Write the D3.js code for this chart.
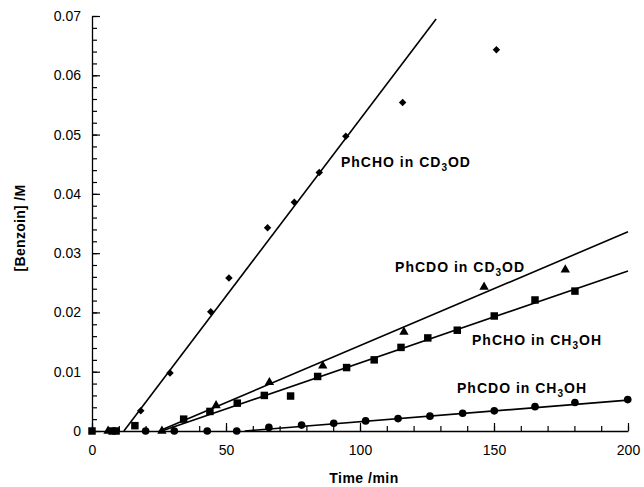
<!DOCTYPE html>
<html><head><meta charset="utf-8">
<script src="https://cdn.jsdelivr.net/npm/d3@7"></script>
<style>
body{margin:0;background:#fff;}
svg text{font-family:"Liberation Sans",Arial,Helvetica,sans-serif;fill:#000;}
</style></head>
<body><svg id="chart" width="644" height="487"></svg>
<script>
// ---- data (time in min, concentration in M) ----
const xTicks = [0, 50, 100, 150, 200];
const yTicks = [0, 0.01, 0.02, 0.03, 0.04, 0.05, 0.06, 0.07];

// PhCHO in CD3OD (diamonds)
const phchoCD3OD_t = [18.2, 29.1, 44.3, 51.1, 65.5, 75.5, 84.8, 94.7, 115.9, 150.9];
const phchoCD3OD_c = [0.0034, 0.0098, 0.0201, 0.0258, 0.0343, 0.0386, 0.0436, 0.0497, 0.0554, 0.0643];
const phchoCD3OD_fit = [[11.9, 0], [128.4, 0.0695]];

// PhCDO in CD3OD (triangles)
const phcdoCD3OD_t = [6, 26.1, 46.3, 66.2, 86.1, 116.4, 146.3, 176.6];
const phcdoCD3OD_c = [0, 0, 0.0043, 0.0082, 0.0110, 0.0167, 0.0243, 0.0272];
const phcdoCD3OD_fit = [[25, 0], [200, 0.0336]];

// PhCHO in CH3OH (squares)
const phchoCH3OH_t = [0, 7.5, 9, 16, 34.2, 44, 54.2, 64.3, 74.1, 84.2, 95, 105.3, 115.3, 125.3, 136.3, 150.1, 165.3, 180.2];
const phchoCH3OH_c = [0, 0, 0, 0.0009, 0.0020, 0.0033, 0.0047, 0.0060, 0.0059, 0.0092, 0.0107, 0.0120, 0.0141, 0.0157, 0.0170, 0.0194, 0.0221, 0.0236];
const phchoCH3OH_fit = [[26, 0], [200, 0.0270]];

// PhCDO in CH3OH (circles)
const phcdoCH3OH_t = [20, 30.7, 43, 54, 66, 78.2, 90.2, 102.1, 114.2, 126.1, 138.3, 150.1, 165.3, 180.2, 199.9];
const phcdoCH3OH_c = [0, 0, 0, 0, 0.0006, 0.0010, 0.0013, 0.0017, 0.0021, 0.0025, 0.0030, 0.0034, 0.0041, 0.0048, 0.0053];
const phcdoCH3OH_fit = [[57, 0], [200, 0.0052]];

const labelText = ["PhCHO in CD", "PhCDO in CD", "PhCHO in CH", "PhCDO in CH"];
const labelTail = ["OD", "OD", "OH", "OH"];
const labelAt = [[92.9, 0.0445], [113.1, 0.0268], [141.8, 0.0145], [136.2, 0.0064]];

// ---- layout ----
const svg = d3.select("#chart");
const x = d3.scaleLinear().domain([0, 200]).range([92, 628]);
const y = d3.scaleLinear().domain([0, 0.07]).range([431, 16]);

const fmtY = d => d === 0 ? "0" : d3.format(".2f")(d);

// minor ticks
svg.append("g").attr("transform", "translate(92,0)")
  .call(d3.axisLeft(y).tickValues(d3.range(0, 0.0701, 0.002)).tickSize(-5).tickFormat(""))
  .call(g => g.select(".domain").remove());
svg.append("g").attr("transform", "translate(0,431)")
  .call(d3.axisBottom(x).tickValues(d3.range(0, 201, 10)).tickSize(-5).tickFormat(""))
  .call(g => g.select(".domain").remove());

// major axes
const ya = svg.append("g").attr("transform", "translate(92,0)")
  .call(d3.axisLeft(y).tickValues(yTicks).tickSize(-8).tickSizeOuter(0).tickPadding(11).tickFormat(fmtY));
const xa = svg.append("g").attr("transform", "translate(0,431)")
  .call(d3.axisBottom(x).tickValues(xTicks).tickSize(-8).tickSizeOuter(0).tickPadding(14).tickFormat(d3.format("d")));
[ya, xa].forEach(a => {
  a.selectAll("text").attr("font-size", 14).style("font-family", '"Liberation Sans",Arial,sans-serif');
  a.selectAll("line,path").attr("stroke", "#000").attr("stroke-width", 1.3);
});
svg.selectAll(".tick line").attr("stroke", "#000").attr("stroke-width", 1.2);

// axis titles
svg.append("text").attr("x", 364).attr("y", 483).attr("text-anchor", "middle")
  .attr("font-size", 14).attr("font-weight", "bold").attr("letter-spacing", 0.5).text("Time /min");
svg.append("text").attr("transform", "translate(25,228) rotate(-90)").attr("text-anchor", "middle")
  .attr("font-size", 14).attr("font-weight", "bold").attr("letter-spacing", 0.3).text("[Benzoin] /M");

// fit lines
const line = d3.line().x(d => x(d[0])).y(d => y(d[1]));
[phchoCD3OD_fit, phcdoCD3OD_fit, phchoCH3OH_fit, phcdoCH3OH_fit].forEach(f => {
  svg.append("path").attr("d", line(f)).attr("fill", "none").attr("stroke", "#000").attr("stroke-width", 1.6);
});

// markers
const pts = (ts, cs) => ts.map((t, i) => [t, cs[i]]);
const sym = (type, size, data, rot) => {
  svg.append("g").selectAll("path").data(data).join("path")
    .attr("transform", d => `translate(${x(d[0])},${y(d[1])}) rotate(${rot || 0})`)
    .attr("d", d3.symbol().type(type).size(size)).attr("fill", "#000");
};
sym(d3.symbolSquare, 28, pts(phchoCD3OD_t, phchoCD3OD_c), 45);
sym(d3.symbolTriangle, 38, pts(phcdoCD3OD_t, phcdoCD3OD_c));
sym(d3.symbolSquare, 56, pts(phchoCH3OH_t, phchoCH3OH_c));
sym(d3.symbolCircle, 46, pts(phcdoCH3OH_t, phcdoCH3OH_c));

// series labels
labelText.forEach((s, i) => {
  const t = svg.append("text").attr("x", x(labelAt[i][0])).attr("y", y(labelAt[i][1]))
    .attr("font-size", 14).attr("font-weight", "bold").attr("letter-spacing", 1);
  t.append("tspan").text(s);
  t.append("tspan").attr("dy", 4).attr("font-size", 10).text("3");
  t.append("tspan").attr("dy", -4).text(labelTail[i]);
});
</script></body></html>
